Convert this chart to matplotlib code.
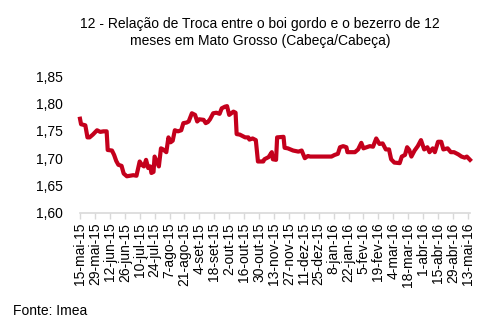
import pandas as pd
import matplotlib
matplotlib.use('Agg')
import matplotlib.pyplot as plt

plt.rcParams['font.family'] = ['Liberation Sans', 'DejaVu Sans']

# dias corridos desde 15-mai-15 e relacao de troca (cabeca/cabeca)
DIAS = [0, 1, 5, 7, 9, 12, 16, 19, 22, 25, 26, 30, 32, 34, 36, 39, 41, 44, 47, 50,
        53, 56, 58, 60, 62, 64, 66, 67, 69, 70, 72, 74, 76, 78, 81, 83, 85, 87, 89, 92,
        95, 97, 100, 102, 105, 108, 110, 112, 116, 118, 120, 122, 125, 128, 131, 133, 136, 138, 140, 142,
        144, 146, 147, 150, 153, 155, 158, 159, 162, 165, 167, 172, 173, 177, 180, 181, 184, 185, 191, 192,
        195, 200, 205, 208, 211, 213, 214, 216, 225, 236, 239, 242, 244, 247, 250, 251, 258, 261, 264, 266,
        269, 272, 275, 278, 281, 284, 287, 290, 292, 295, 300, 302, 305, 307, 309, 311, 314, 317, 320, 323,
        326, 328, 331, 333, 336, 339, 341, 345, 348, 351, 355, 358, 361, 363, 366]
RELACAO = [1.772, 1.762, 1.760, 1.738, 1.738, 1.743, 1.751, 1.748, 1.749, 1.749,
           1.715, 1.714, 1.706, 1.695, 1.688, 1.686, 1.672, 1.667, 1.668, 1.669,
           1.668, 1.694, 1.688, 1.685, 1.697, 1.682, 1.685, 1.673, 1.675, 1.703,
           1.694, 1.685, 1.718, 1.716, 1.711, 1.738, 1.729, 1.732, 1.751, 1.749,
           1.751, 1.764, 1.765, 1.767, 1.782, 1.779, 1.767, 1.771, 1.770, 1.764,
           1.766, 1.771, 1.782, 1.783, 1.781, 1.791, 1.794, 1.795, 1.779, 1.782,
           1.785, 1.783, 1.744, 1.743, 1.740, 1.738, 1.738, 1.734, 1.736, 1.733,
           1.694, 1.694, 1.698, 1.702, 1.711, 1.698, 1.697, 1.738, 1.739, 1.719,
           1.718, 1.714, 1.712, 1.714, 1.700, 1.703, 1.704, 1.703, 1.703, 1.703,
           1.706, 1.708, 1.720, 1.722, 1.720, 1.711, 1.711, 1.716, 1.728, 1.718,
           1.720, 1.722, 1.721, 1.736, 1.726, 1.727, 1.716, 1.716, 1.698, 1.692,
           1.691, 1.703, 1.706, 1.720, 1.715, 1.703, 1.714, 1.722, 1.733, 1.716,
           1.720, 1.711, 1.718, 1.711, 1.730, 1.730, 1.716, 1.718, 1.711, 1.711,
           1.707, 1.703, 1.701, 1.703, 1.697]

ROTULOS = ['15-mai-15', '29-mai-15', '12-jun-15', '26-jun-15', '10-jul-15', '24-jul-15',
           '7-ago-15', '21-ago-15', '4-set-15', '18-set-15', '2-out-15', '16-out-15',
           '30-out-15', '13-nov-15', '27-nov-15', '11-dez-15', '25-dez-15', '8-jan-16',
           '22-jan-16', '5-fev-16', '19-fev-16', '4-mar-16', '18-mar-16', '1-abr-16',
           '15-abr-16', '29-abr-16', '13-mai-16']
Y_TICKS = [1.60, 1.65, 1.70, 1.75, 1.80, 1.85]

INICIO = pd.Timestamp('2015-05-15')
datas = INICIO + pd.to_timedelta(DIAS, unit='D')
ticks = pd.date_range(INICIO, periods=len(ROTULOS), freq='14D')

fig = plt.figure(figsize=(4.97, 3.24), dpi=100)
ax = fig.add_axes([80 / 497, 1 - 213 / 324, 390 / 497, 137 / 324])
ax.plot(datas, RELACAO, color='#C4001C', lw=3.0, solid_joinstyle='round', clip_on=False)

ax.set_ylim(1.60, 1.85)
ax.set_xlim(INICIO, INICIO + pd.Timedelta(days=366))
ax.set_yticks(Y_TICKS)
ax.set_yticklabels([('%.2f' % v).replace('.', ',') for v in Y_TICKS])
ax.set_xticks(ticks)
ax.set_xticklabels(ROTULOS, rotation=90)
ax.tick_params(axis='y', length=0, pad=12, labelsize=10)
ax.tick_params(axis='x', length=4, color='#d9d9d9', width=1, pad=3, labelsize=10)
for s in ['left', 'right', 'top']:
    ax.spines[s].set_visible(False)
ax.spines['bottom'].set_color('#d9d9d9')
ax.spines['bottom'].set_linewidth(1.2)

fig.text(260 / 497, 1 - 28 / 324, '12 - Relação de Troca entre o boi gordo e o bezerro de 12',
         ha='center', va='baseline', fontsize=10)
fig.text(260 / 497, 1 - 45 / 324, 'meses em Mato Grosso (Cabeça/Cabeça)',
         ha='center', va='baseline', fontsize=10)
fig.text(13 / 497, 1 - 315 / 324, 'Fonte: Imea', ha='left', va='baseline', fontsize=10)

fig.savefig('out.png', dpi=100)
